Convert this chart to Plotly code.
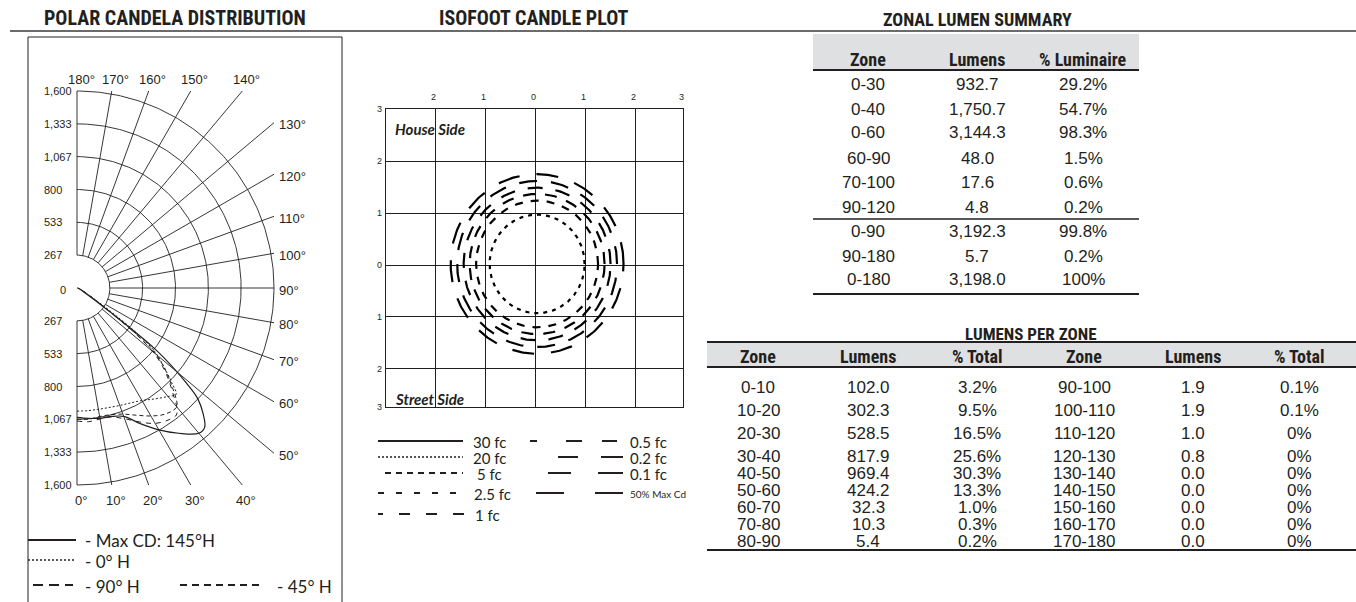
import numpy as np
import plotly.graph_objects as go

W, H = 1356, 602

# ---------------- DATA ----------------
# Polar candela distribution (angle from nadir in degrees, candela)
ring_vals = [267, 533, 800, 1067, 1333, 1600]
spoke_angles = list(range(0, 181, 10))

theta_max = [0, 5, 10, 15, 20, 25, 30, 35, 40, 42.5, 45, 47.5, 49, 50.5, 52, 53, 54, 56, 60, 70, 90]
cd_max = [1050, 1062, 1075, 1080, 1110, 1215, 1330, 1440, 1540, 1535, 1450, 1330, 1180, 1000, 800, 560, 330, 160, 60, 20, 5]

theta_0h = [0, 5, 10, 15, 20, 25, 30, 35, 40, 43, 45, 47, 49, 51, 53, 55, 58, 65, 90]
cd_0h = [1000, 1000, 1000, 1005, 1015, 1030, 1055, 1100, 1150, 1180, 1090, 990, 900, 800, 600, 350, 150, 40, 5]

theta_90h = [0, 5, 10, 15, 20, 25, 30, 35, 38, 40, 42, 44, 46, 48, 50, 52, 54, 57, 65, 90]
cd_90h = [1080, 1090, 1080, 1085, 1130, 1200, 1270, 1305, 1310, 1260, 1170, 1090, 1010, 920, 800, 600, 360, 160, 40, 5]

theta_45h = [0, 5, 10, 15, 20, 25, 30, 35, 40, 42, 44, 46, 48, 50, 52, 54, 58, 70, 90]
cd_45h = [1065, 1070, 1060, 1065, 1090, 1140, 1200, 1250, 1260, 1200, 1110, 1030, 940, 830, 620, 360, 140, 25, 5]

# Isofoot candle plot (mounting heights)
iso_levels = ["5 fc", "2.5 fc", "1 fc", "0.5 fc", "0.2 fc", "0.1 fc"]
iso_radius = [0.95, 1.22, 1.35, 1.47, 1.60, 1.73]
iso_center = [0.03, 0.02]
iso_grid = [-3, -2, -1, 0, 1, 2, 3]
iso_xtick_vals = [-2, -1, 0, 1, 2, 3]
iso_xtick_text = ["2", "1", "0", "1", "2", "3"]
iso_ytick_vals = [3, 2, 1, 0, -1, -2, -3]
iso_ytick_text = ["3", "2", "1", "0", "1", "2", "3"]
iso_legend_left = ["30 fc", "20 fc", "5 fc", "2.5 fc", "1 fc"]
iso_legend_right = ["0.5 fc", "0.2 fc", "0.1 fc", "50% Max Cd"]

# Zonal lumen summary
zs_header = ["Zone", "Lumens", "% Luminaire"]
zs_zone = ["0-30", "0-40", "0-60", "60-90", "70-100", "90-120", "0-90", "90-180", "0-180"]
zs_lumens = [932.7, 1750.7, 3144.3, 48.0, 17.6, 4.8, 3192.3, 5.7, 3198.0]
zs_pct = ["29.2%", "54.7%", "98.3%", "1.5%", "0.6%", "0.2%", "99.8%", "0.2%", "100%"]

# Lumens per zone
lpz_header = ["Zone", "Lumens", "% Total", "Zone", "Lumens", "% Total"]
lpz_zone_a = ["0-10", "10-20", "20-30", "30-40", "40-50", "50-60", "60-70", "70-80", "80-90"]
lpz_lumens_a = [102.0, 302.3, 528.5, 817.9, 969.4, 424.2, 32.3, 10.3, 5.4]
lpz_pct_a = ["3.2%", "9.5%", "16.5%", "25.6%", "30.3%", "13.3%", "1.0%", "0.3%", "0.2%"]
lpz_zone_b = ["90-100", "100-110", "110-120", "120-130", "130-140", "140-150", "150-160", "160-170", "170-180"]
lpz_lumens_b = [1.9, 1.9, 1.0, 0.8, 0.0, 0.0, 0.0, 0.0, 0.0]
lpz_pct_b = ["0.1%", "0.1%", "0%", "0%", "0%", "0%", "0%", "0%", "0%"]

# ---------------- STYLE / LAYOUT ----------------
INK = "#231f20"
GRAY = "#dfe0e2"
COND = "Roboto Condensed, Roboto, Liberation Sans, sans-serif"
BODY = "Liberation Sans, Arial, sans-serif"
HUM = "Lato, Open Sans, sans-serif"


def fx(p):
    return p / W


def fy(p):
    return 1 - p / H


fig = go.Figure()
shapes = []
ann = []


def hline(x0, x1, y, width=1, dash="solid", color=INK):
    shapes.append(dict(type="line", xref="paper", yref="paper", x0=fx(x0), x1=fx(x1),
                       y0=fy(y), y1=fy(y), line=dict(color=color, width=width, dash=dash)))


def vline(x, y0, y1, width=1, color=INK):
    shapes.append(dict(type="line", xref="paper", yref="paper", x0=fx(x), x1=fx(x),
                       y0=fy(y0), y1=fy(y1), line=dict(color=color, width=width)))


def rect(x0, y0, x1, y1, fill):
    shapes.append(dict(type="rect", xref="paper", yref="paper", x0=fx(x0), x1=fx(x1),
                       y0=fy(y1), y1=fy(y0), fillcolor=fill, line=dict(width=0), layer="below"))


def text(x, y, s, size, family=BODY, xanchor="center", yanchor="middle", color=INK):
    ann.append(dict(x=fx(x), y=fy(y), xref="paper", yref="paper", text=s, showarrow=False,
                    xanchor=xanchor, yanchor=yanchor, font=dict(family=family, size=size, color=color)))


# Section titles + rule
text(175, 18, "<b>POLAR CANDELA DISTRIBUTION</b>", 20, COND)
text(533, 18, "<b>ISOFOOT CANDLE PLOT</b>", 20, COND)
text(977, 20, "<b>ZONAL LUMEN SUMMARY</b>", 18, COND)
hline(10, 1356, 31, width=1.6, color="#3a3a3a")

# ---------------- POLAR CHART (subplot x / y) ----------------
S = 197 / 1600.0  # px per candela
CX, CY = 77, 288
BX0, BY0, BX1 = 28, 37, 342
fig.update_layout(
    xaxis=dict(domain=[fx(BX0), fx(BX1)], range=[(BX0 - CX) / S, (BX1 - CX) / S], visible=False, fixedrange=True),
    yaxis=dict(domain=[0, fy(BY0)], range=[(CY - H) / S, (CY - BY0) / S], visible=False, fixedrange=True),
)
vline(BX0, BY0, H + 2)
vline(BX1, BY0, H + 2)
hline(BX0, BX1, BY0)


def pxy(theta, r):
    t = np.radians(np.asarray(theta, dtype=float))
    r = np.asarray(r, dtype=float)
    return r * np.sin(t), -r * np.cos(t)


# rings
gx, gy = [], []
tt = np.linspace(0, 180, 241)
for r in ring_vals:
    x, y = pxy(tt, np.full_like(tt, r))
    gx += list(x) + [None]
    gy += list(y) + [None]
# spokes, extended to the bounding square
R = ring_vals[-1]
spoke_end = {}
for a in spoke_angles:
    t = np.radians(a)
    s, c = np.sin(t), -np.cos(t)
    m = max(abs(s), abs(c))
    xe, ye = R * s / m, R * c / m
    spoke_end[a] = (xe, ye)
    x0, y0 = pxy(a, ring_vals[0])
    gx += [float(x0), xe, None]
    gy += [float(y0), ye, None]
fig.add_trace(go.Scatter(x=gx, y=gy, mode="lines", line=dict(color=INK, width=0.9),
                         hoverinfo="skip", xaxis="x", yaxis="y"))

curves = [
    (theta_45h, cd_45h, "4px,3px", 1.0),
    (theta_90h, cd_90h, "5px,5px", 1.0),
    (theta_0h, cd_0h, "2px,2px", 1.0),
    (theta_max, cd_max, "solid", 1.2),
]
for th, cd, dash, w in curves:
    x, y = pxy(th, cd)
    fig.add_trace(go.Scatter(x=x, y=y, mode="lines", line=dict(color=INK, width=w, dash=dash),
                             line_shape="spline", hoverinfo="skip", xaxis="x", yaxis="y"))

# radial value labels
for r in ring_vals:
    for sgn in (1, -1):
        ann.append(dict(x=fx(42), xref="paper", y=sgn * r, yref="y", text=f"{r:,}", showarrow=False,
                        xanchor="left", yanchor="middle", font=dict(family=BODY, size=11, color=INK)))
ann.append(dict(x=fx(58), xref="paper", y=0, yref="y", text="0", showarrow=False, yshift=-2,
                xanchor="left", yanchor="middle", font=dict(family=BODY, size=11, color=INK)))
# angle labels
for a in spoke_angles:
    xe, ye = spoke_end[a]
    d = dict(x=xe, y=ye, xref="x", yref="y", text=f"{a}°", showarrow=False,
             font=dict(family=BODY, size=13, color=INK))
    if a >= 140:
        d.update(xanchor="center", yanchor="bottom", yshift=2, xshift=4)
    elif a <= 40:
        d.update(xanchor="center", yanchor="top", yshift=-6, xshift=4)
    else:
        d.update(xanchor="left", yanchor="middle", xshift=3, yshift=-2)
    ann.append(d)

# polar legend
hline(BX0, 76, 540, width=2)
text(83, 540, "- Max CD: 145°H", 17, HUM, xanchor="left")
hline(BX0, 75, 560, width=1.5, dash="2px,2px")
text(83, 561, "- 0° H", 17, HUM, xanchor="left")
hline(33, 73, 585, width=2, dash="10px,6px")
text(83, 586, "- 90° H", 17, HUM, xanchor="left")
hline(180, 262, 585, width=2, dash="7px,5px")
text(275, 586, "- 45° H", 17, HUM, xanchor="left")

# ---------------- ISOFOOT PLOT (subplot x2 / y2) ----------------
IX0, IX1, IY0, IY1 = 385.7, 683, 109.3, 407
fig.update_layout(
    xaxis2=dict(domain=[fx(IX0), fx(IX1)], range=[-3, 2.95], anchor="y2", tickvals=iso_grid,
                showgrid=True, gridcolor=INK, gridwidth=1.1, zeroline=False, showticklabels=False,
                ticks="", showline=True, mirror=True, linecolor=INK, linewidth=1.1, fixedrange=True),
    yaxis2=dict(domain=[fy(IY1), fy(IY0)], range=[-2.735, 3], anchor="x2", tickvals=iso_grid,
                showgrid=True, gridcolor=INK, gridwidth=1.1, zeroline=False, showticklabels=False,
                ticks="", showline=True, mirror=True, linecolor=INK, linewidth=1.1, fixedrange=True),
)
iso_dash = ["4px,5px", "8px,8px", "12px,10px", "15px,13px", "18px,14px", "22px,17px"]
ts = np.linspace(0, 2 * np.pi, 361)
for lvl, rad, dash in zip(iso_levels, iso_radius, iso_dash):
    fig.add_trace(go.Scatter(x=iso_center[0] + rad * np.cos(ts), y=iso_center[1] + rad * np.sin(ts),
                             mode="lines", name=lvl, line=dict(color="black", width=2.2, dash=dash),
                             hoverinfo="skip", xaxis="x2", yaxis="y2"))

for v, t in zip(iso_xtick_vals, iso_xtick_text):
    ann.append(dict(x=min(v, 2.95), xref="x2", y=fy(97), yref="paper", text=t, showarrow=False,
                    xanchor="center", yanchor="middle", xshift=-2, font=dict(family=BODY, size=9, color=INK)))
for v, t in zip(iso_ytick_vals, iso_ytick_text):
    ann.append(dict(x=fx(384), xref="paper", y=max(v, -2.735), yref="y2", text=t, showarrow=False,
                    xanchor="right", yanchor="middle", font=dict(family=BODY, size=9, color=INK)))

text(393, 129, "<b><i>House Side</i></b>", 15, HUM, xanchor="left")
text(393, 399, "<b><i>Street Side</i></b>", 15, HUM, xanchor="left")

# isofoot legend
left_rows = [441, 457, 473, 493, 514]
left_dash = ["solid", "2px,2px", "6px,5px", "6px,12px", "5px,16px,11px,16px,11px,16px,11px,20px"]
left_x0 = [378, 378, 385, 378, 378]
left_x1 = [463, 463, 463, 463, 467]
left_tx = [471, 471, 475, 472, 473]
for lbl, y, d, x0, x1, tx in zip(iso_legend_left, left_rows, left_dash, left_x0, left_x1, left_tx):
    hline(x0, x1, y, width=2 if d != "2px,2px" else 1.6, dash=d)
    text(tx, y + 1, lbl, 15, HUM, xanchor="left")
right_rows = [441, 457, 473, 493]
right_dash = ["7px,29px,16px,20px,16px,40px", "20px,23px,22px,40px", "23px,27px,25px,40px", "28px,31px,28px,40px"]
right_x0 = [530, 558, 548, 536]
right_x1 = [617, 627, 627, 626]
for lbl, y, d, x0, x1 in zip(iso_legend_right, right_rows, right_dash, right_x0, right_x1):
    hline(x0, x1, y, width=2, dash=d)
    text(628, y + 1, lbl, 15 if "fc" in lbl else 10, HUM, xanchor="left")

# ---------------- ZONAL LUMEN SUMMARY ----------------
zs_cols = [868, 977, 1083]
zs_rows = [85, 109, 133, 158, 182, 207, 231, 256, 280]
rect(813, 34, 1139, 70, GRAY)
hline(813, 1139, 70, width=2)
for c, h in zip(zs_cols, zs_header):
    text(c, 60, f"<b>{h}</b>", 18, COND)
for i, y in enumerate(zs_rows):
    text(zs_cols[0], y, zs_zone[i], 17)
    text(zs_cols[1], y, f"{zs_lumens[i]:,.1f}", 17)
    text(zs_cols[2], y, zs_pct[i], 17)
hline(813, 1139, 219, width=1.4)
hline(813, 1139, 294, width=2)

# ---------------- LUMENS PER ZONE ----------------
text(1031, 334, "<b>LUMENS PER ZONE</b>", 17, COND)
lpz_cols = [758, 868, 977, 1084, 1193, 1299]
lpz_rows = [387, 410, 433, 456, 473.5, 490.5, 507.5, 524.5, 541.5]
rect(707, 342, 1356, 367, GRAY)
hline(707, 1356, 342, width=2)
hline(707, 1356, 367, width=2)
for c, h in zip(lpz_cols, lpz_header):
    text(c, 356, f"<b>{h}</b>", 18, COND)
for i, y in enumerate(lpz_rows):
    vals = [lpz_zone_a[i], f"{lpz_lumens_a[i]:,.1f}", lpz_pct_a[i],
            lpz_zone_b[i], f"{lpz_lumens_b[i]:,.1f}", lpz_pct_b[i]]
    for c, v in zip(lpz_cols, vals):
        text(c, y, v, 17)
hline(707, 1356, 550, width=2)

fig.update_layout(width=W, height=H, margin=dict(l=0, r=0, t=0, b=0), showlegend=False,
                  paper_bgcolor="white", plot_bgcolor="rgba(0,0,0,0)", shapes=shapes, annotations=ann)
fig.write_html("out.html", config={"displayModeBar": False}, post_script=(
    "document.body.style.margin='0px';document.body.style.padding='0px';"
    "document.documentElement.style.overflow='hidden';document.body.style.overflow='hidden';"))
